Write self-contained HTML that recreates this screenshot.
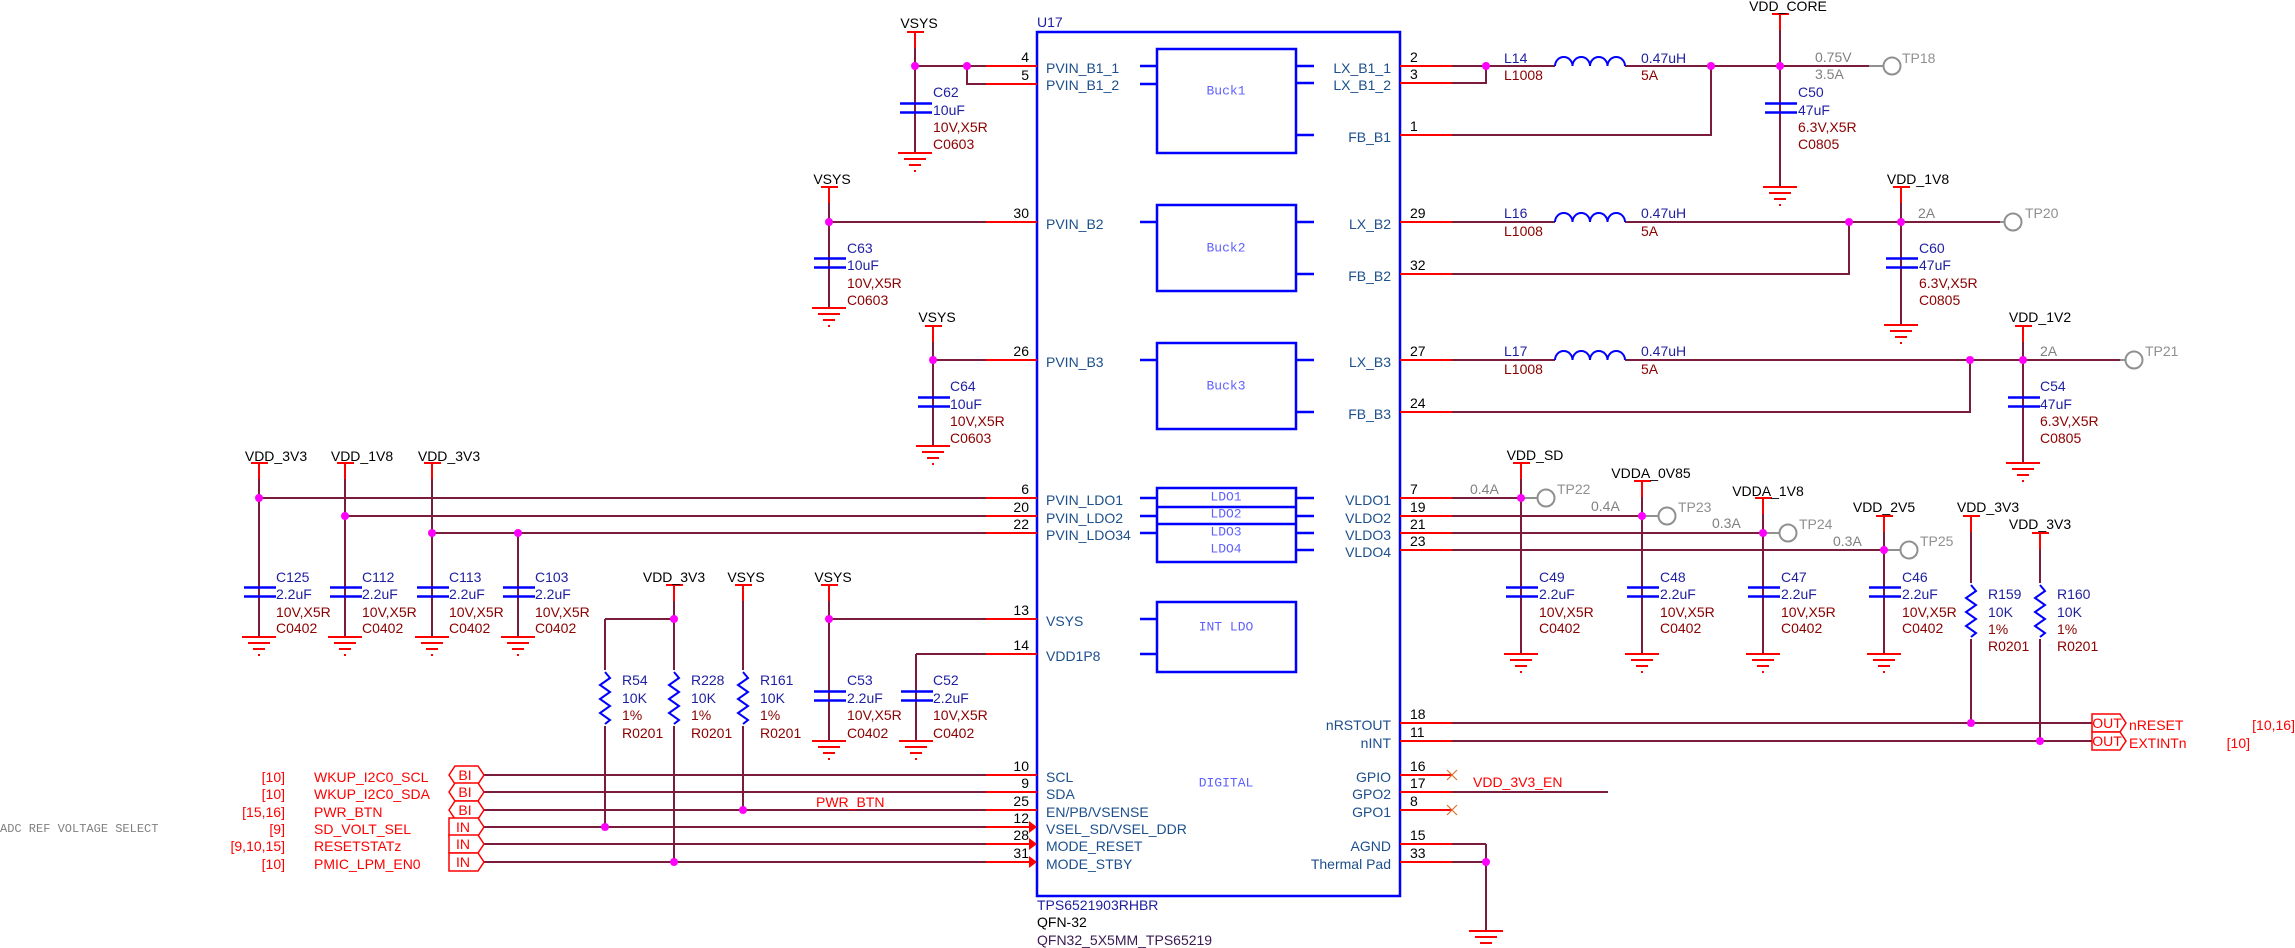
<!DOCTYPE html>
<html><head><meta charset="utf-8"><style>
html,body{margin:0;padding:0;background:#fff;}
svg{display:block;}
text{font-family:"Liberation Sans",sans-serif;font-size:14px;dominant-baseline:central;}
.nb{fill:#000;}
.pl{fill:#1c4f8c;}
.ref{fill:#1e1ea0;}
.val{fill:#8b0000;}
.sig{fill:#ff0000;}
.mono{font-family:"Liberation Mono",monospace;fill:#808080;font-size:12px;}
.blk{font-family:"Liberation Mono",monospace;fill:#6060ff;font-size:13px;}
.w{stroke:#7b1c3c;stroke-width:2;fill:none;}
.r{stroke:#ff0000;stroke-width:2;fill:none;}
.b{stroke:#0000ff;stroke-width:2.5;fill:none;}
.g{stroke:#909090;stroke-width:2;fill:none;}
.j{fill:#ff00ff;}
</style></head><body>
<svg width="2295" height="948" viewBox="0 0 2295 948" xmlns="http://www.w3.org/2000/svg">
<defs>
<g id="gnd"><path class="r" d="M-17 0H17M-11 6H11M-6 12H6M-1 18H1"/></g>
<g id="cap"><path d="M-15 -4.5H17M-15 4.5H17" stroke="#0000ff" stroke-width="2.5"/></g>
<g id="bar"><path class="r" d="M-8 0H9M0 0V16"/></g>
<g id="res"><path d="M0 0L5 6L-5 13L5 20L-5 27L5 34L-5 41L5 48L0 52" stroke="#0000ff" stroke-width="2" fill="none"/></g>
<g id="tp"><circle r="8.5" stroke="#909090" stroke-width="2" fill="#fff"/></g>
</defs>

<!-- chip -->
<rect x="1037" y="32" width="363" height="864" class="b"/>
<text x="1037" y="22" class="ref">U17</text>
<rect x="1157" y="49" width="139" height="104" class="b"/>
<rect x="1157" y="205" width="139" height="86" class="b"/>
<rect x="1157" y="343" width="139" height="86" class="b"/>
<rect x="1157" y="488" width="139" height="74" class="b"/>
<path class="b" d="M1157 507H1296M1157 524H1296"/>
<rect x="1157" y="602" width="139" height="70" class="b"/>
<path class="b" d="M1140 66H1157M1140 84H1157M1140 222H1157M1140 360H1157M1140 498H1157M1140 516H1157M1140 533H1157M1140 619H1157M1140 654H1157
M1296 66H1314M1296 83H1314M1296 135H1314M1296 222H1314M1296 274H1314M1296 360H1314M1296 412H1314M1296 498H1314M1296 516H1314M1296 533H1314M1296 550H1314"/>
<text x="1226" y="91" class="blk" text-anchor="middle">Buck1</text>
<text x="1226" y="248" class="blk" text-anchor="middle">Buck2</text>
<text x="1226" y="386" class="blk" text-anchor="middle">Buck3</text>
<text x="1226" y="497" class="blk" text-anchor="middle" font-size="11">LDO1</text>
<text x="1226" y="514" class="blk" text-anchor="middle" font-size="11">LDO2</text>
<text x="1226" y="532" class="blk" text-anchor="middle" font-size="11">LDO3</text>
<text x="1226" y="549" class="blk" text-anchor="middle" font-size="11">LDO4</text>
<text x="1226" y="627" class="blk" text-anchor="middle">INT LDO</text>
<text x="1226" y="783" class="blk" text-anchor="middle">DIGITAL</text>

<!-- left pin labels -->
<g class="pl">
<text x="1046" y="68">PVIN_B1_1</text><text x="1046" y="85">PVIN_B1_2</text>
<text x="1046" y="224">PVIN_B2</text><text x="1046" y="362">PVIN_B3</text>
<text x="1046" y="500">PVIN_LDO1</text><text x="1046" y="518">PVIN_LDO2</text><text x="1046" y="535">PVIN_LDO34</text>
<text x="1046" y="621">VSYS</text><text x="1046" y="656">VDD1P8</text>
<text x="1046" y="777">SCL</text><text x="1046" y="794">SDA</text><text x="1046" y="812">EN/PB/VSENSE</text>
<text x="1046" y="829">VSEL_SD/VSEL_DDR</text><text x="1046" y="846">MODE_RESET</text><text x="1046" y="864">MODE_STBY</text>
</g>
<g class="pl" text-anchor="end">
<text x="1391" y="68">LX_B1_1</text><text x="1391" y="85">LX_B1_2</text><text x="1391" y="137">FB_B1</text>
<text x="1391" y="224">LX_B2</text><text x="1391" y="276">FB_B2</text>
<text x="1391" y="362">LX_B3</text><text x="1391" y="414">FB_B3</text>
<text x="1391" y="500">VLDO1</text><text x="1391" y="518">VLDO2</text><text x="1391" y="535">VLDO3</text><text x="1391" y="552">VLDO4</text>
<text x="1391" y="725">nRSTOUT</text><text x="1391" y="743">nINT</text>
<text x="1391" y="777">GPIO</text><text x="1391" y="794">GPO2</text><text x="1391" y="812">GPO1</text>
<text x="1391" y="846">AGND</text><text x="1391" y="864">Thermal Pad</text>
</g>
<g class="nb" text-anchor="end">
<text x="1029" y="57">4</text><text x="1029" y="75">5</text><text x="1029" y="213">30</text><text x="1029" y="351">26</text>
<text x="1029" y="489">6</text><text x="1029" y="507">20</text><text x="1029" y="524">22</text>
<text x="1029" y="610">13</text><text x="1029" y="645">14</text>
<text x="1029" y="766">10</text><text x="1029" y="783">9</text><text x="1029" y="801">25</text>
<text x="1029" y="818">12</text><text x="1029" y="835">28</text><text x="1029" y="853">31</text>
</g>
<g class="nb">
<text x="1410" y="57">2</text><text x="1410" y="74">3</text><text x="1410" y="126">1</text>
<text x="1410" y="213">29</text><text x="1410" y="265">32</text><text x="1410" y="351">27</text><text x="1410" y="403">24</text>
<text x="1410" y="489">7</text><text x="1410" y="507">19</text><text x="1410" y="524">21</text><text x="1410" y="541">23</text>
<text x="1410" y="714">18</text><text x="1410" y="732">11</text>
<text x="1410" y="766">16</text><text x="1410" y="783">17</text><text x="1410" y="801">8</text>
<text x="1410" y="835">15</text><text x="1410" y="853">33</text>
</g>

<!-- left wires -->
<path class="w" d="M915 66H986M967 66V84H986M829 222H986M933 360H986M259 498H986M345 516H986M432 533H986
M605 619H674M829 619H986M916 654H986
M484 775H986M484 792H986M484 810H986M484 827H986M484 844H986M484 862H986"/>
<path class="r" d="M986 66H1037M986 84H1037M986 222H1037M986 360H1037M986 498H1037M986 516H1037M986 533H1037M986 619H1037M986 654H1037
M986 775H1037M986 792H1037M986 810H1037M986 827H1030M986 844H1030M986 862H1030"/>
<path fill="#ff0000" d="M1029 821L1037 827L1029 833ZM1029 838L1037 844L1029 850ZM1029 856L1037 862L1029 868Z"/>

<!-- left verticals -->
<path class="w" d="M915 48V153M829 203V308M933 342V446M259 479V637M345 479V637M432 479V637M518 533V637
M605 619V827M674 601V862M743 601V810M829 601V741M916 654V741"/>
<use href="#bar" x="915" y="32"/><use href="#bar" x="829" y="187"/><use href="#bar" x="933" y="326"/>
<use href="#bar" x="259" y="463"/><use href="#bar" x="345" y="463"/><use href="#bar" x="432" y="463"/>
<use href="#bar" x="674" y="585"/><use href="#bar" x="743" y="585"/><use href="#bar" x="829" y="585"/>
<use href="#cap" x="915" y="108"/><use href="#cap" x="829" y="263"/><use href="#cap" x="933" y="402"/>
<use href="#cap" x="259" y="592"/><use href="#cap" x="345" y="592"/><use href="#cap" x="432" y="592"/><use href="#cap" x="518" y="592"/>
<use href="#cap" x="829" y="696"/><use href="#cap" x="916" y="696"/>
<use href="#gnd" x="915" y="153"/><use href="#gnd" x="829" y="308"/><use href="#gnd" x="933" y="446"/>
<use href="#gnd" x="259" y="637"/><use href="#gnd" x="345" y="637"/><use href="#gnd" x="432" y="637"/><use href="#gnd" x="518" y="637"/>
<use href="#gnd" x="829" y="741"/><use href="#gnd" x="916" y="741"/>
<rect x="598" y="670" width="14" height="56" fill="#fff"/><rect x="667" y="670" width="14" height="56" fill="#fff"/><rect x="736" y="670" width="14" height="56" fill="#fff"/>
<use href="#res" x="605" y="672"/><use href="#res" x="674" y="672"/><use href="#res" x="743" y="672"/>

<g class="nb" text-anchor="middle">
<text x="919" y="23">VSYS</text><text x="832" y="179">VSYS</text><text x="937" y="317">VSYS</text>
<text x="276" y="456">VDD_3V3</text><text x="362" y="456">VDD_1V8</text><text x="449" y="456">VDD_3V3</text>
<text x="674" y="577">VDD_3V3</text><text x="746" y="577">VSYS</text><text x="833" y="577">VSYS</text>
</g>
<g>
<text x="933" y="92" class="ref">C62</text><text x="933" y="110" class="ref">10uF</text><text x="933" y="127" class="val">10V,X5R</text><text x="933" y="144" class="val">C0603</text>
<text x="847" y="248" class="ref">C63</text><text x="847" y="265" class="ref">10uF</text><text x="847" y="283" class="val">10V,X5R</text><text x="847" y="300" class="val">C0603</text>
<text x="950" y="386" class="ref">C64</text><text x="950" y="404" class="ref">10uF</text><text x="950" y="421" class="val">10V,X5R</text><text x="950" y="438" class="val">C0603</text>
<text x="276" y="577" class="ref">C125</text><text x="276" y="594" class="ref">2.2uF</text><text x="276" y="612" class="val">10V,X5R</text><text x="276" y="628" class="val">C0402</text>
<text x="362" y="577" class="ref">C112</text><text x="362" y="594" class="ref">2.2uF</text><text x="362" y="612" class="val">10V,X5R</text><text x="362" y="628" class="val">C0402</text>
<text x="449" y="577" class="ref">C113</text><text x="449" y="594" class="ref">2.2uF</text><text x="449" y="612" class="val">10V,X5R</text><text x="449" y="628" class="val">C0402</text>
<text x="535" y="577" class="ref">C103</text><text x="535" y="594" class="ref">2.2uF</text><text x="535" y="612" class="val">10V,X5R</text><text x="535" y="628" class="val">C0402</text>
<text x="622" y="680" class="ref">R54</text><text x="622" y="698" class="ref">10K</text><text x="622" y="715" class="val">1%</text><text x="622" y="733" class="val">R0201</text>
<text x="691" y="680" class="ref">R228</text><text x="691" y="698" class="ref">10K</text><text x="691" y="715" class="val">1%</text><text x="691" y="733" class="val">R0201</text>
<text x="760" y="680" class="ref">R161</text><text x="760" y="698" class="ref">10K</text><text x="760" y="715" class="val">1%</text><text x="760" y="733" class="val">R0201</text>
<text x="847" y="680" class="ref">C53</text><text x="847" y="698" class="ref">2.2uF</text><text x="847" y="715" class="val">10V,X5R</text><text x="847" y="733" class="val">C0402</text>
<text x="933" y="680" class="ref">C52</text><text x="933" y="698" class="ref">2.2uF</text><text x="933" y="715" class="val">10V,X5R</text><text x="933" y="733" class="val">C0402</text>
</g>

<!-- left signals -->
<g class="sig" text-anchor="end">
<text x="285" y="777">[10]</text><text x="285" y="794">[10]</text><text x="285" y="812">[15,16]</text>
<text x="285" y="829">[9]</text><text x="285" y="846">[9,10,15]</text><text x="285" y="864">[10]</text>
</g>
<g class="sig">
<text x="314" y="777">WKUP_I2C0_SCL</text><text x="314" y="794">WKUP_I2C0_SDA</text><text x="314" y="812">PWR_BTN</text>
<text x="314" y="829">SD_VOLT_SEL</text><text x="314" y="846">RESETSTATz</text><text x="314" y="864">PMIC_LPM_EN0</text>
<text x="816" y="802">PWR_BTN</text>
</g>
<text x="0" y="829" class="mono" font-size="13">ADC REF VOLTAGE SELECT</text>
<g stroke="#ff0000" stroke-width="1.5" fill="#fff">
<path d="M449 775L455 766H478L484 775L478 784H455Z"/>
<path d="M449 792L455 783H478L484 792L478 801H455Z"/>
<path d="M449 810L455 801H478L484 810L478 819H455Z"/>
<path d="M449 818H478L484 827L478 836H449Z"/>
<path d="M449 835H478L484 844L478 853H449Z"/>
<path d="M449 853H478L484 862L478 871H449Z"/>
</g>
<g class="sig" font-size="9" text-anchor="middle">
<text x="465" y="775" font-size="9">BI</text><text x="465" y="792" font-size="9">BI</text><text x="465" y="810" font-size="9">BI</text>
<text x="463" y="827" font-size="9">IN</text><text x="463" y="844" font-size="9">IN</text><text x="463" y="862" font-size="9">IN</text>
</g>

<!-- right wires -->
<path class="r" d="M1400 66H1452M1400 83H1452M1400 135H1452M1400 222H1452M1400 274H1452M1400 360H1452M1400 412H1452
M1400 498H1452M1400 516H1452M1400 533H1452M1400 550H1452M1400 723H1452M1400 741H1452M1400 775H1452M1400 792H1452M1400 810H1452M1400 844H1452M1400 862H1452"/>
<path class="w" d="M1452 66H1555M1625 66H1869M1452 83H1486V66M1452 135H1711V66
M1452 222H1555M1625 222H2000M1452 274H1849V222
M1452 360H1555M1625 360H2120M1452 412H1970V360
M1452 498H1521M1452 516H1642M1452 533H1763M1452 550H1884
M1452 723H2092M1452 741H2092M1452 792H1608M1452 844H1486M1452 862H1486M1486 844V931"/>
<path class="g" d="M1869 66H1884M2000 222H2005M2120 360H2126M1521 498H1538M1642 516H1659M1763 533H1780M1884 550H1901"/>
<path d="M1555 66a8.75 9 0 0 1 17.5 0a8.75 9 0 0 1 17.5 0a8.75 9 0 0 1 17.5 0a8.75 9 0 0 1 17.5 0
M1555 222a8.75 9 0 0 1 17.5 0a8.75 9 0 0 1 17.5 0a8.75 9 0 0 1 17.5 0a8.75 9 0 0 1 17.5 0
M1555 360a8.75 9 0 0 1 17.5 0a8.75 9 0 0 1 17.5 0a8.75 9 0 0 1 17.5 0a8.75 9 0 0 1 17.5 0" stroke="#0000ff" stroke-width="2" fill="none"/>
<path d="M1447 770l10 10M1457 770l-10 10M1447 805l10 10M1457 805l-10 10" stroke="#e07030" stroke-width="1.2"/>
<use href="#tp" x="1892" y="66"/><use href="#tp" x="2013" y="222"/><use href="#tp" x="2134" y="360"/>
<use href="#tp" x="1546" y="498"/><use href="#tp" x="1667" y="516"/><use href="#tp" x="1788" y="533"/><use href="#tp" x="1909" y="550"/>

<!-- right verticals -->
<path class="w" d="M1780 30V187M1901 203V325M2023 342V463M1521 479V654M1642 497V654M1763 514V654M1884 532V654M1971 532V723M2040 549V741"/>
<use href="#bar" x="1780" y="14"/><use href="#bar" x="1901" y="187"/><use href="#bar" x="2023" y="326"/>
<use href="#bar" x="1521" y="463"/><use href="#bar" x="1642" y="481"/><use href="#bar" x="1763" y="498"/><use href="#bar" x="1884" y="516"/>
<use href="#bar" x="1971" y="516"/><use href="#bar" x="2040" y="533"/>
<use href="#cap" x="1780" y="108"/><use href="#cap" x="1901" y="263"/><use href="#cap" x="2023" y="402"/>
<use href="#cap" x="1521" y="592"/><use href="#cap" x="1642" y="592"/><use href="#cap" x="1763" y="592"/><use href="#cap" x="1884" y="592"/>
<use href="#gnd" x="1780" y="187"/><use href="#gnd" x="1901" y="325"/><use href="#gnd" x="2023" y="463"/>
<use href="#gnd" x="1521" y="654"/><use href="#gnd" x="1642" y="654"/><use href="#gnd" x="1763" y="654"/><use href="#gnd" x="1884" y="654"/>
<use href="#gnd" x="1486" y="931"/>
<rect x="1964" y="583" width="14" height="56" fill="#fff"/><rect x="2033" y="583" width="14" height="56" fill="#fff"/>
<use href="#res" x="1971" y="585"/><use href="#res" x="2040" y="585"/>

<g class="nb" text-anchor="middle">
<text x="1788" y="6">VDD_CORE</text><text x="1918" y="179">VDD_1V8</text><text x="2040" y="317">VDD_1V2</text>
<text x="1535" y="455">VDD_SD</text><text x="1651" y="473">VDDA_0V85</text><text x="1768" y="491">VDDA_1V8</text>
<text x="1884" y="507">VDD_2V5</text><text x="1988" y="507">VDD_3V3</text><text x="2040" y="524">VDD_3V3</text>
</g>
<g>
<text x="1504" y="58" class="ref">L14</text><text x="1504" y="75" class="val">L1008</text><text x="1641" y="58" class="ref">0.47uH</text><text x="1641" y="75" class="val">5A</text>
<text x="1504" y="213" class="ref">L16</text><text x="1504" y="231" class="val">L1008</text><text x="1641" y="213" class="ref">0.47uH</text><text x="1641" y="231" class="val">5A</text>
<text x="1504" y="351" class="ref">L17</text><text x="1504" y="369" class="val">L1008</text><text x="1641" y="351" class="ref">0.47uH</text><text x="1641" y="369" class="val">5A</text>
<text x="1798" y="92" class="ref">C50</text><text x="1798" y="110" class="ref">47uF</text><text x="1798" y="127" class="val">6.3V,X5R</text><text x="1798" y="144" class="val">C0805</text>
<text x="1919" y="248" class="ref">C60</text><text x="1919" y="265" class="ref">47uF</text><text x="1919" y="283" class="val">6.3V,X5R</text><text x="1919" y="300" class="val">C0805</text>
<text x="2040" y="386" class="ref">C54</text><text x="2040" y="404" class="ref">47uF</text><text x="2040" y="421" class="val">6.3V,X5R</text><text x="2040" y="438" class="val">C0805</text>
<text x="1539" y="577" class="ref">C49</text><text x="1539" y="594" class="ref">2.2uF</text><text x="1539" y="612" class="val">10V,X5R</text><text x="1539" y="628" class="val">C0402</text>
<text x="1660" y="577" class="ref">C48</text><text x="1660" y="594" class="ref">2.2uF</text><text x="1660" y="612" class="val">10V,X5R</text><text x="1660" y="628" class="val">C0402</text>
<text x="1781" y="577" class="ref">C47</text><text x="1781" y="594" class="ref">2.2uF</text><text x="1781" y="612" class="val">10V,X5R</text><text x="1781" y="628" class="val">C0402</text>
<text x="1902" y="577" class="ref">C46</text><text x="1902" y="594" class="ref">2.2uF</text><text x="1902" y="612" class="val">10V,X5R</text><text x="1902" y="628" class="val">C0402</text>
<text x="1988" y="594" class="ref">R159</text><text x="1988" y="612" class="ref">10K</text><text x="1988" y="629" class="val">1%</text><text x="1988" y="646" class="val">R0201</text>
<text x="2057" y="594" class="ref">R160</text><text x="2057" y="612" class="ref">10K</text><text x="2057" y="629" class="val">1%</text><text x="2057" y="646" class="val">R0201</text>
</g>
<g class="mono">
<text x="1815" y="57">0.75V</text><text x="1815" y="74">3.5A</text>
<text x="1918" y="213">2A</text><text x="2040" y="351">2A</text>
<text x="1470" y="489">0.4A</text><text x="1591" y="506">0.4A</text><text x="1712" y="523">0.3A</text><text x="1833" y="541">0.3A</text>
</g>
<g fill="#909090">
<text x="1902" y="58">TP18</text><text x="2025" y="213">TP20</text><text x="2145" y="351">TP21</text>
<text x="1557" y="489">TP22</text><text x="1678" y="507">TP23</text><text x="1799" y="524">TP24</text><text x="1920" y="541">TP25</text>
</g>

<g stroke="#ff0000" stroke-width="1.5" fill="#fff">
<path d="M2092 714H2120L2126 723L2120 732H2092Z"/>
<path d="M2092 732H2120L2126 741L2120 750H2092Z"/>
</g>
<text x="2107" y="723" class="sig" font-size="9" text-anchor="middle">OUT</text>
<text x="2107" y="741" class="sig" font-size="9" text-anchor="middle">OUT</text>
<text x="2129" y="725" class="sig">nRESET</text><text x="2129" y="743" class="sig">EXTINTn</text>
<text x="2295" y="725" class="sig" text-anchor="end">[10,16]</text><text x="2250" y="743" class="sig" text-anchor="end">[10]</text>
<text x="1473" y="782" class="sig">VDD_3V3_EN</text>

<text x="1037" y="905" class="ref">TPS6521903RHBR</text>
<text x="1037" y="922" class="nb">QFN-32</text>
<text x="1037" y="940" class="val" style="fill:#3a1a50">QFN32_5X5MM_TPS65219</text>

<!-- junctions -->
<g class="j">
<circle cx="915" cy="66" r="4"/><circle cx="967" cy="66" r="4"/><circle cx="829" cy="222" r="4"/><circle cx="933" cy="360" r="4"/>
<circle cx="259" cy="498" r="4"/><circle cx="345" cy="516" r="4"/><circle cx="432" cy="533" r="4"/><circle cx="518" cy="533" r="4"/>
<circle cx="674" cy="619" r="4"/><circle cx="829" cy="619" r="4"/><circle cx="743" cy="810" r="4"/><circle cx="605" cy="827" r="4"/><circle cx="674" cy="862" r="4"/>
<circle cx="1486" cy="66" r="4"/><circle cx="1711" cy="66" r="4"/><circle cx="1780" cy="66" r="4"/>
<circle cx="1849" cy="222" r="4"/><circle cx="1901" cy="222" r="4"/><circle cx="1970" cy="360" r="4"/><circle cx="2023" cy="360" r="4"/>
<circle cx="1521" cy="498" r="4"/><circle cx="1642" cy="516" r="4"/><circle cx="1763" cy="533" r="4"/><circle cx="1884" cy="550" r="4"/>
<circle cx="1971" cy="723" r="4"/><circle cx="2040" cy="741" r="4"/><circle cx="1486" cy="862" r="4"/>
</g>
</svg>
</body></html>
